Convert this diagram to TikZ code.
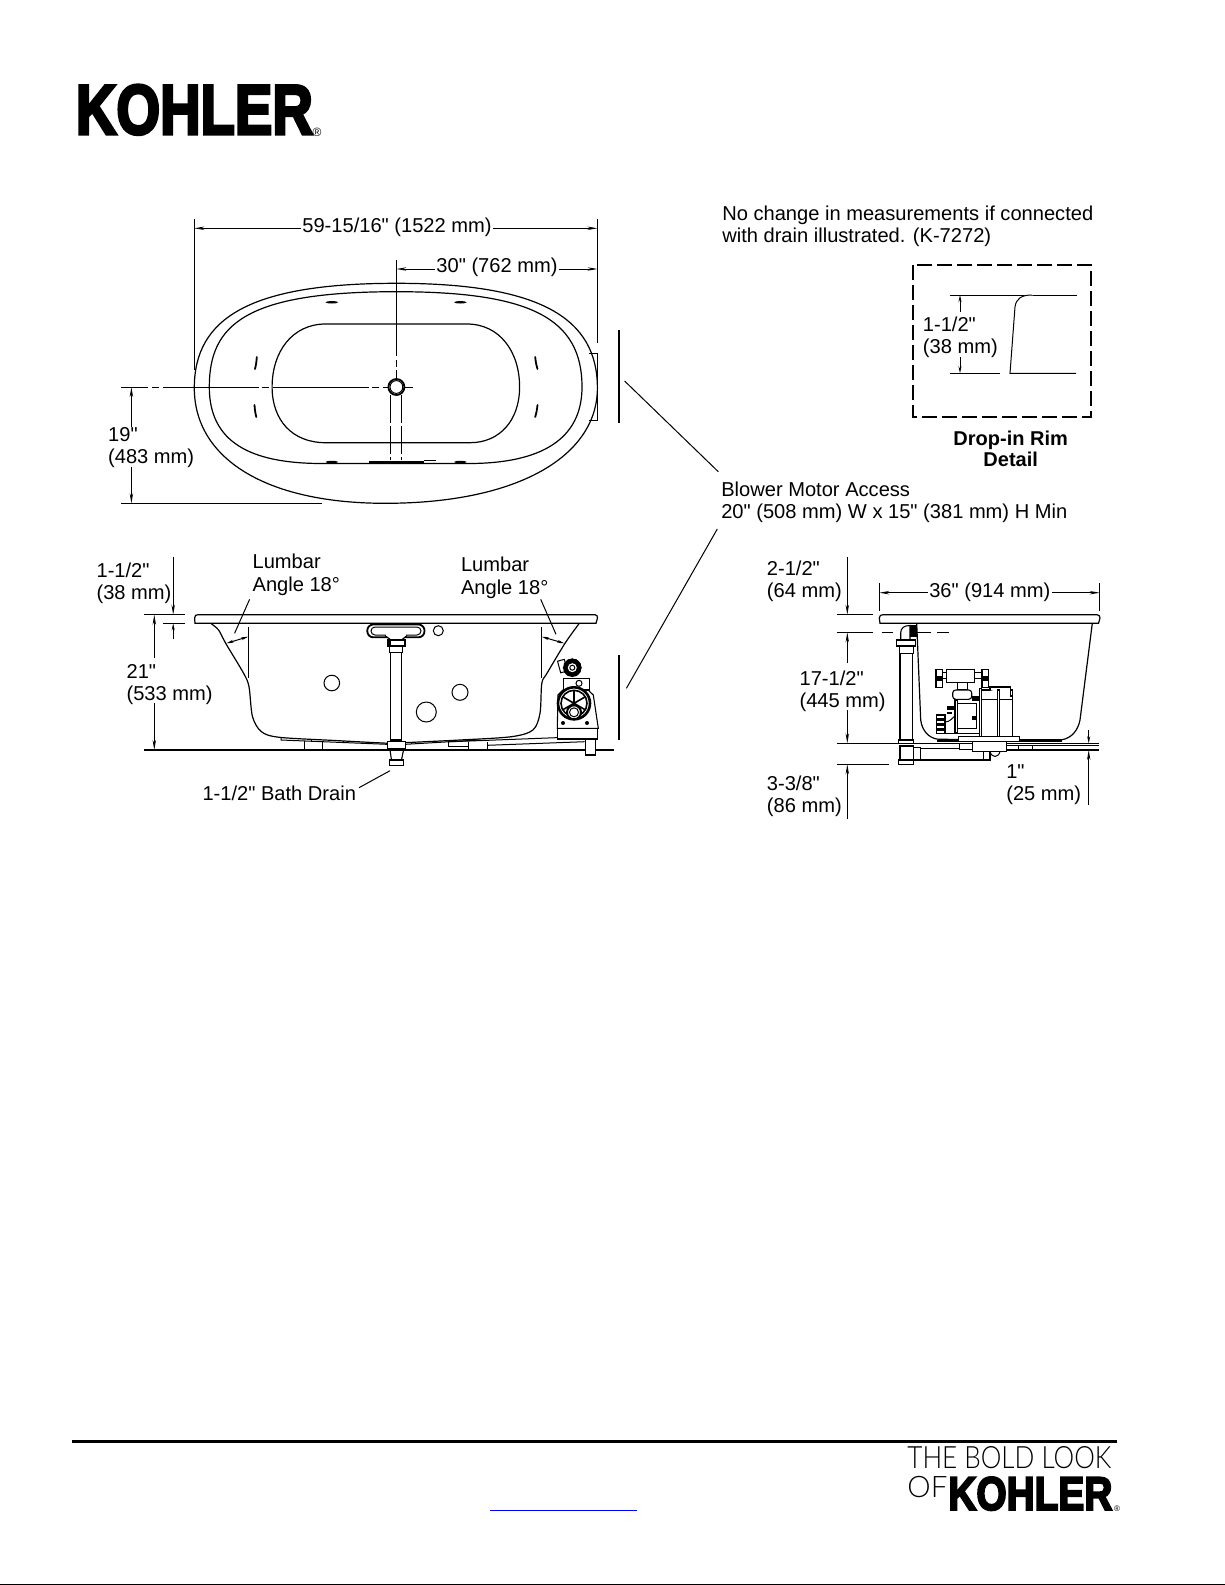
\documentclass[tikz,border=0pt]{standalone}
\usepackage{fontspec}
\usepackage{graphicx}
\setmainfont{Liberation Sans}
\newfontfamily\dimfont{Liberation Sans}
\newfontfamily\logofont[FakeBold=4.5]{Liberation Sans Bold}
\newfontfamily\thinfont{Lato Light}
\usetikzlibrary{arrows.meta}
\tikzset{
	lbl/.style={font=\fontsize{10.05}{11.05}\selectfont\dimfont,inner sep=0.6pt,align=left,anchor=west,xshift=-1pt,yshift=-1pt},
	ctr/.style={font=\fontsize{10.05}{11.05}\selectfont\dimfont,inner sep=0.6pt,align=center,anchor=center},
	hair/.style={line width=0.5pt},
	tub/.style={line width=0.6pt},
	part/.style={line width=0.55pt,fill=white},
	dimline/.style={hair,-{Stealth[length=5pt,width=1.7pt]}},
	shortline/.style={hair,-{Stealth[length=3.5pt,width=1.5pt]}},
	bothline/.style={hair,{Stealth[length=3.5pt,width=1.5pt]}-{Stealth[length=3.5pt,width=1.5pt]}},
	centerline/.style={hair,dash pattern=on 48pt off 1.8pt on 3.5pt off 1.8pt},
	jet/.style={line width=0.9pt,line cap=round},
}
\begin{document}
\begin{tikzpicture}[x=0.5pt,y=-0.5pt]
	\useasboundingbox (0,0) rectangle (1225,1585);
	% logos and page rule
	\node[anchor=south west,inner sep=0] (logotop) at (75.5,135) {\resizebox{118.5pt}{24.5pt}{\logofont KOHLER}};
	\node[anchor=center,inner sep=0,font=\fontsize{6}{6}\selectfont\dimfont] (regtop) at (317,132) {\textregistered};
	\coordinate (rulea) at (71.8,1441.3);
	\coordinate (ruleb) at (1116.5,1441.3);
	\draw[line width=1.5pt] (rulea) -- (ruleb);
	\coordinate (edgea) at (0,1584.2);
	\coordinate (edgeb) at (1225,1584.2);
	\draw[line width=0.6pt] (edgea) -- (edgeb);
	\node[anchor=south west,inner sep=0] (boldlook) at (907,1469) {\resizebox{102pt}{11pt}{\thinfont THE BOLD LOOK}};
	\node[anchor=south west,inner sep=0] (boldof) at (907,1498.3) {\resizebox{20pt}{10.6pt}{\thinfont OF}};
	\node[anchor=south west,inner sep=0] (logobot) at (948,1510.7) {\resizebox{82pt}{16.4pt}{\logofont KOHLER}};
	\node[anchor=center,inner sep=0,font=\fontsize{4}{4}\selectfont\dimfont] (regbot) at (1117,1509) {\textregistered};
	\coordinate (linka) at (489.5,1510.5);
	\coordinate (linkb) at (637,1510.5);
	\draw[blue,line width=0.6pt] (linka) -- (linkb);

	% plan view
	\draw[tub] (194.3,388) .. controls (194.3,318) and (250,283.3) .. (396.4,283.3) .. controls (540,283.3) and (597.4,318) .. (597.4,388) .. controls (597.4,455) and (520,503.3) .. (385,503.3) .. controls (265,503.3) and (194.3,458) .. (194.3,388) -- cycle;
	\draw[tub] (209.3,387) .. controls (209.3,325) and (245,291.7) .. (396.4,291.7) .. controls (530,291.7) and (582,318) .. (582,387) .. controls (582,440) and (540,463.5) .. (468.6,463.5) -- (322,463.5) .. controls (250,463.5) and (209.3,442) .. (209.3,387) -- cycle;
	\draw[tub] (325.7,324) .. controls (292,324) and (272.1,352) .. (272.1,387) .. controls (272.1,420) and (292,442.7) .. (325.7,442.7) -- (470,442.7) .. controls (500,442.7) and (519.6,420) .. (519.6,387) .. controls (519.6,352) and (500,324) .. (466.8,324) -- cycle;
	\foreach \jx/\jy in {331.8/302.3,460.4/302.3,331.8/462,460.4/462}
		\fill (\jx,\jy) ellipse (6.3 and 1.2);
	\draw[jet] (256.8,357) to[bend left=5] (255,369);
	\draw[jet] (535.2,357) to[bend right=5] (537.5,369);
	\draw[jet] (254.5,405) to[bend right=5] (256.3,417);
	\draw[jet] (537.5,405) to[bend left=5] (535.2,417);
	\draw[hair] (589.3,353.3) -- (597.5,353.3) -- (597.5,420.3) -- (589.3,420.3);
	\draw[centerline,dash phase=34.5pt] (121.4,387) -- (413,387);
	\draw[centerline] (396.4,260) -- (396.4,379);
	\draw[line width=0.9pt,fill=white] (396.4,387) circle (8);
	\draw[hair] (396.4,387) circle (6.4);
	\draw[hair,dash pattern=on 14pt off 1.5pt] (390.4,395) -- (390.4,460);
	\draw[hair,dash pattern=on 14pt off 1.5pt] (401.4,395) -- (401.4,460);
	\fill (368.6,460.7) -- (424,460.7) -- (424,463.6) -- (368.6,463.6) -- cycle;
	\draw[hair] (424,460.7) -- (436.4,460.7);
	\draw[hair] (424,463.6) -- (443.6,463.6);

	% plan view dimensions
	\coordinate (widtha) at (194.3,228.3);
	\coordinate (widthb) at (597.5,228.3);
	\draw[hair] (194.3,219.3) -- (194.3,370);
	\draw[hair] (597.5,219.3) -- (597.5,343.3);
	\node[ctr] (widthlbl) at (397,227) {59-15/16" (1522 mm)};
	\draw[dimline] (widthlbl.west |- widtha) -- (widtha);
	\draw[dimline] (widthlbl.east |- widthb) -- (widthb);
	\coordinate (halfa) at (396.4,269);
	\coordinate (halfb) at (597.5,269);
	\node[ctr] (halflbl) at (497,267.7) {30" (762 mm)};
	\draw[dimline] (halflbl.west |- halfa) -- (halfa);
	\draw[dimline] (halflbl.east |- halfb) -- (halfb);
	\coordinate (deptha) at (131.4,387);
	\coordinate (depthb) at (131.4,503.3);
	\draw[hair] (121.4,503.3) -- (322,503.3);
	\node[lbl] (depthlbl) at (108.6,446) {19"\\(483 mm)};
	\draw[dimline] (131.4,426.7) -- (deptha);
	\draw[dimline] (131.4,466.7) -- (depthb);

	% access notes
	\draw[line width=1pt] (619,330) -- (619,422.7);
	\draw[line width=1pt] (619,655) -- (619,740);
	\node[lbl] (notelbl) at (722.7,224) {No change in measurements if connected\\with drain illustrated. (K-7272)};
	\node[lbl] (blowerlbl) at (721.7,500) {Blower Motor Access\\20" (508 mm) W x 15" (381 mm) H Min};
	\coordinate (blowera) at (624.6,381);
	\coordinate (blowerb) at (718.3,471.7);
	\coordinate (blowerc) at (626.4,688.3);
	\coordinate (blowerd) at (717.3,529);
	\draw[hair] (blowera) -- (blowerb);
	\draw[hair] (blowerc) -- (blowerd);

	% rim detail
	\draw[line width=1pt,dash pattern=on 7.5pt off 2.5pt] (913.3,265) rectangle (1090.7,416.7);
	\draw[hair] (950,295) -- (1076.7,295);
	\draw[hair,fill=white] (1032,295) .. controls (1021,295) and (1016,299) .. (1015,307) -- (1010,373.3) -- (1076,373.3);
	\draw[hair] (950,373.3) -- (1000,373.3);
	\node[lbl] (rimlbl) at (923.3,335) {1-1/2"\\(38 mm)};
	\draw[shortline] (960,312) -- (960,295);
	\draw[shortline] (960,357) -- (960,373.3);
	\node[ctr,font=\fontsize{10}{10.8}\selectfont\dimfont\bfseries] (detaillbl) at (1010.7,449) {Drop-in Rim\\Detail};

	% front view tub
	\draw[tub] plot[smooth,tension=0.5] coordinates {(210.7,623.3) (218.6,630) (225.7,643.3) (243.6,673.3) (249,686.7) (252.5,716.7) (261.4,731.7) (279.3,737.3) (335,740.5) (390,743.3) (404,742.7) (460,740) (511.4,736.7) (532.9,730) (540,713.3) (541.8,683.3) (547,673.3) (565,643.3) (579.3,623.3)};
	\draw[tub,fill=white] (195,623.3) -- (194.6,618) .. controls (194.6,615.5) and (196,614.7) .. (198,614.7) -- (595,614.7) .. controls (597,615) and (597.5,616) .. (597.5,618) -- (596,623.3) -- cycle;
	\draw[hair] (248.2,626.7) -- (248.2,678.3);
	\draw[hair] (541.8,626.7) -- (541.8,678.3);
	\draw[bothline] (226.4,643.3) -- (248.2,636.7);
	\draw[bothline] (541.8,636.7) -- (564.3,643.3);
	\draw[hair] (331.8,683) circle (7.8);
	\draw[hair] (460,692.3) circle (8);
	\draw[hair] (426.3,712) circle (10);
	\draw[hair] (438.3,630.7) circle (5);
	% overflow and drain
	\draw[line width=0.9pt,rounded corners=3pt] (367.3,624.5) rectangle (424.5,637.3);
	\draw[hair,rounded corners=2pt] (371,627) rectangle (421,635);
	\draw[part] (385,635.5) -- (391,640) -- (401.5,640) -- (407,635.5);
	\draw[white,line width=0.8pt] (386,635) -- (406,635);
	\draw[part] (387.3,640) rectangle (405,646);
	\fill (387.5,640.3) rectangle (391,645.7);
	\draw[part] (389.3,646) rectangle (402.7,652.7);
	\draw[part] (390.7,652.7) rectangle (401.7,740);
	\draw[part] (390.7,740) rectangle (401.7,742);
	\draw[part] (387.3,741.7) rectangle (405.7,748.3);
	\draw[part] (390,750) -- (391.5,760) -- (401.5,760) -- (403.5,750);
	\draw[part] (389.3,760) rectangle (403.3,765.7);
	\draw[line width=1pt] (144.3,750) -- (613.6,750);
	% skid under the tub
	\draw[hair] (281,737.5) -- (281,740) -- (387,744.3);
	\draw[hair] (311,738.8) -- (311,741.5);
	\draw[hair] (343,740.5) -- (343,743);
	\draw[hair] (304.3,741) -- (304.3,750);
	\draw[hair] (322.1,741.8) -- (322.1,750);
	\draw[hair] (405.5,744.3) -- (479.3,740);
	\draw[hair] (411.4,742.5) -- (411.4,744);
	\draw[hair] (448.2,740) -- (448.2,746) -- (468.6,746);
	\draw[hair] (468.6,742) -- (468.6,750);
	\draw[hair] (487.1,742) -- (487.1,750);
	\draw[hair] (448.2,741.8) -- (584.6,736.6);
	\draw[hair] (487.1,745.3) -- (584.6,741.7);
	\draw[part] (585.4,738.3) -- (585.4,755) -- (595.4,755) -- (595.4,738.3);
	% blower in front view
	\draw[part] (557.9,728.3) rectangle (597.1,739);
	\draw[hair] (585.4,739) -- (595.4,739);
	\draw[part] (557.3,728.3) -- (558,695) -- (563,690) -- (588,690) -- (593.3,695) -- (598.3,728.3) -- cycle;
	\draw[part] (563.3,678.3) rectangle (589.3,690);
	\draw[hair] (579,683.3) circle (3);
	\draw[hair,rotate around={15:(563,668)}] (559.5,660) rectangle (566.5,672);
	\fill (572.3,667.7) circle (9.2);
	\foreach \ga in {0,30,...,330}
		\fill (572.3,667.7) ++(\ga:8.2) circle (1.4);
	\fill[white] (572.3,667.7) circle (4.5);
	\draw[hair] (572.3,667.7) circle (2.5);
	\draw[line width=1.3pt,fill=white] (574,703.3) circle (16);
	\draw[line width=0.8pt] (574,703.3) circle (13);
	\foreach \ga in {30,90,150,210,270,330}
		\draw[line width=0.8pt] (574,703.3) -- ++(\ga:13.5);
	\draw[line width=1pt,fill=white] (574,712.3) circle (7);
	\draw[hair] (574,712.3) circle (4.5);
	\fill (563,723) circle (2);
	\fill (587,723) circle (2);

	% front view dimensions
	\draw[hair] (144.3,614.7) -- (184.6,614.7);
	\draw[hair] (163.2,623.3) -- (184.6,623.3);
	\node[lbl] (rimfrontlbl) at (97,581.5) {1-1/2"\\(38 mm)};
	\draw[dimline] (173.2,557.3) -- (173.2,614.7);
	\draw[shortline] (173.2,639.3) -- (173.2,623.3);
	\node[lbl] (heightlbl) at (127,683) {21"\\(533 mm)};
	\draw[dimline] (154.3,658.3) -- (154.3,614.7);
	\draw[dimline] (154.3,703.3) -- (154.3,750);
	\node[lbl] (lumbarlbl) at (253,572.8) {Lumbar\\Angle 18°};
	\node[lbl] (lumbarrlbl) at (461.4,575.8) {Lumbar\\Angle 18°};
	\coordinate (lumbara) at (234.6,633.3);
	\coordinate (lumbarb) at (556,634.3);
	\draw[hair] (249.6,599.3) -- (lumbara);
	\draw[hair] (540.7,599.3) -- (lumbarb);
	\node[lbl] (drainlbl) at (202.9,791.7) {1-1/2" Bath Drain};
	\coordinate (draina) at (390,770.7);
	\draw[hair] (359,787.7) -- (draina);

	% side view tub
	\draw[tub] (916.7,623.3) -- (920.7,720) .. controls (922,730) and (928,738) .. (938.3,739.3) -- (1061.7,739.8) .. controls (1072,738) and (1078,730) .. (1080,720) -- (1092.3,623.3);
	\draw[tub,fill=white] (880,623.3) -- (879.3,618) .. controls (879.3,615.5) and (881,614.7) .. (883,614.7) -- (1097,614.7) .. controls (1099,615) and (1100,616) .. (1100,618) -- (1098.5,623.3) -- cycle;
	% side view drain
	\draw[part] (900.7,640) -- (900.7,633) .. controls (900.7,628) and (904,625.5) .. (910,625.5) -- (910,640) -- cycle;
	\fill (910,625) rectangle (916.7,637.3);
	\draw[part] (896.7,640) rectangle (915.7,646);
	\draw[part] (899.3,646) rectangle (913.3,653.3);
	\draw[part] (900,653.3) rectangle (912.3,740);
	\draw[part] (898.3,740) rectangle (913.3,743.3);
	\draw[line width=0.6pt] (837.3,743.3) -- (1099,743.3);
	\draw[part] (900,746) rectangle (913.3,760);
	\draw[part] (913.3,747.3) rectangle (920.7,760);
	\draw[part] (898.3,760) rectangle (913.3,764.3);
	\draw[part] (920.7,748.3) rectangle (983.3,760);
	% side view pump
	\fill (937.3,739.5) rectangle (958.3,742.3);
	\fill (1019.3,738.8) rectangle (1061.7,741.7);
	\draw[part] (942.7,672.7) rectangle (982,678.3);
	\draw[part] (946.7,669.3) rectangle (974.3,682.7);
	\draw[part] (936,669.3) rectangle (942.7,687.3);
	\draw[part] (982,669.3) rectangle (988.7,687.3);
	\fill (937,676) rectangle (941.7,681);
	\fill (983,676) rectangle (987.7,681);
	\draw[part] (957.3,682.7) rectangle (967.3,690);
	\draw[part,rounded corners=1.5pt] (952.7,690) rectangle (971.7,699.3);
	\draw[part] (957.3,703.3) rectangle (976.7,728.3);
	\draw[part] (955,700) rectangle (957.3,733);
	\draw[hair] (945,733) -- (979.3,733);
	\foreach \ry in {715,720,725,730}
		\draw[part] (936.7,\ry) rectangle (945,\ry+3.6);
	\fill (947,706) rectangle (954,710);
	\fill (947,711.5) rectangle (952,714);
	\draw[hair] (945,722) .. controls (950,722) and (952,718) .. (955,716);
	\draw[part] (981.7,690) rectangle (1012.7,736.7);
	\draw[hair] (981.7,699.3) -- (1012.7,699.3);
	\draw[part] (990,690) -- (990,687) -- (1010.7,687) -- (1010.7,696) -- (1012.7,696);
	\draw[part] (979.3,688.7) rectangle (981.7,738.3);
	\draw[part] (997.3,690) rectangle (999.3,738.3);
	\fill (972,696) rectangle (979.3,701);
	\fill (972,716) rectangle (977,720);
	\draw[part] (958.3,736.7) rectangle (1019.3,741.7);
	\draw[part] (959.3,743.3) rectangle (972.7,749.3);
	\draw[part] (972.7,741.7) rectangle (1006.7,751.7);
	\draw[part] (983.3,751.7) rectangle (990,760);
	\draw[hair] (990,751.7) .. controls (992,758) and (998,758) .. (1000,751.7);
	\draw[hair] (1006.7,745) -- (1099,745);
	\draw[hair] (1018,745) -- (1018,750);
	\draw[hair] (1032,745) -- (1032,750);
	\draw[line width=1pt] (1006.7,750) -- (1099,750);

	% side view dimensions
	\draw[hair] (879.3,583.3) -- (879.3,610.7);
	\draw[hair] (1099.7,583.3) -- (1099.7,610.7);
	\coordinate (deepa) at (879.3,592.7);
	\coordinate (deepb) at (1099.7,592.7);
	\node[ctr] (deeplbl) at (989.8,592.2) {36" (914 mm)};
	\draw[dimline] (deeplbl.west |- deepa) -- (deepa);
	\draw[dimline] (deeplbl.east |- deepb) -- (deepb);
	\draw[hair] (837.3,614.7) -- (872.7,614.7);
	\node[lbl] (rimhlbl) at (767.3,579.5) {2-1/2"\\(64 mm)};
	\draw[dimline] (847.3,557.3) -- (847.3,614.7);
	\draw[hair] (837.3,632.3) -- (873,632.3);
	\draw[hair] (881.7,632.3) -- (893.3,632.3);
	\draw[hair,dash pattern=on 7pt off 3pt] (917,632.3) -- (949.3,632.3);
	\node[lbl] (waterlbl) at (800,689) {17-1/2"\\(445 mm)};
	\draw[dimline] (847.3,663.3) -- (847.3,632.3);
	\draw[dimline] (847.3,710) -- (847.3,743.3);
	\draw[hair] (837.3,764.3) -- (889.3,764.3);
	\node[lbl] (droplbl) at (767.3,794) {3-3/8"\\(86 mm)};
	\draw[dimline] (847.3,819.3) -- (847.3,764.3);
	\node[lbl] (skidlbl) at (1006.7,782.8) {1"\\(25 mm)};
	\draw[shortline] (1088.7,730) -- (1088.7,743.3);
	\draw[dimline] (1088.7,805) -- (1088.7,750);
\end{tikzpicture}
\end{document}
